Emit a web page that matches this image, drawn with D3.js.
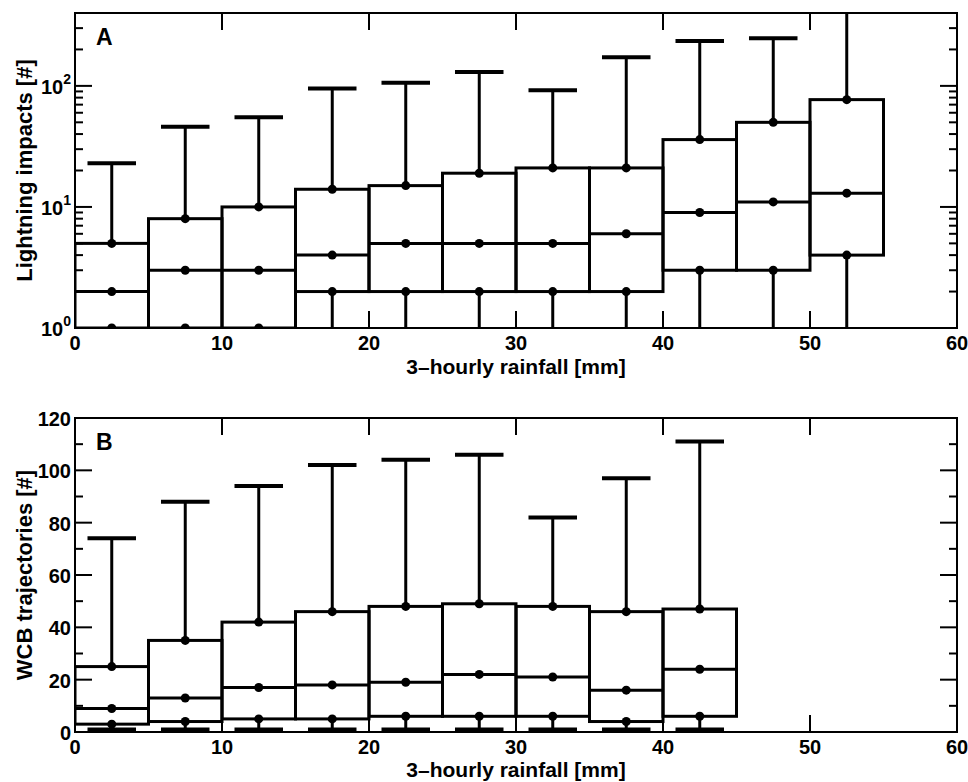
<!DOCTYPE html>
<html>
<head>
<meta charset="utf-8">
<script src="https://cdn.jsdelivr.net/npm/d3@7"></script>
<style>
  body { margin: 0; background: #fff; }
  text { font-family: "Liberation Sans", Arial, Helvetica, sans-serif; font-weight: bold; fill: #000; }
</style>
</head>
<body>
<script>
// rainfall bins [mm], 5 mm wide
var binStart = [0, 5, 10, 15, 20, 25, 30, 35, 40, 45, 50]
var xTicks = [0, 10, 20, 30, 40, 50, 60]

// panel A: lightning impacts per bin
var lightLo  = [0, 0, 0, 0, 0, 0, 0, 0, 0, 0, 0]
var lightQ1  = [1, 1, 1, 2, 2, 2, 2, 2, 3, 3, 4]
var lightMed = [2, 3, 3, 4, 5, 5, 5, 6, 9, 11, 13]
var lightQ3  = [5, 8, 10, 14, 15, 19, 21, 21, 36, 50, 77]
var lightHi  = [23, 46, 55, 95, 106, 130, 92, 172, 235, 248, 500]

// panel B: WCB trajectories per bin
var wcbLo  = [1, 1, 1, 1, 1, 1, 1, 1, 1]
var wcbQ1  = [3, 4, 5, 5, 6, 6, 6, 4, 6]
var wcbMed = [9, 13, 17, 18, 19, 22, 21, 16, 24]
var wcbQ3  = [25, 35, 42, 46, 48, 49, 48, 46, 47]
var wcbHi  = [74, 88, 94, 102, 104, 106, 82, 97, 111]
var wcbTicks = [0, 20, 40, 60, 80, 100, 120]

var W = 968, H = 782
var svg = d3.select('body').append('svg').attr('width', W).attr('height', H)

var x = d3.scaleLinear().domain([0, 60]).range([75, 957])

function rows(lo, q1, med, q3, hi){
  return q1.map(function(d, i){
    return {x0: binStart[i], x1: binStart[i] + 5, lo: lo[i], q1: q1[i], med: med[i], q3: q3[i], hi: hi[i]}
  })
}

function panel(opts){
  var y = opts.y
  var top = y.range()[1], bottom = y.range()[0]
  var left = x.range()[0], right = x.range()[1]
  var g = svg.append('g')

  g.append('clipPath').attr('id', opts.id)
    .append('rect').attr('x', left).attr('y', top).attr('width', right - left).attr('height', bottom - top)

  var marks = g.append('g').attr('clip-path', 'url(#' + opts.id + ')')
  var data = opts.data
  var mid = function(d){ return x((d.x0 + d.x1) / 2) }
  var capW = 1.65

  // whiskers
  marks.selectAll('line.up').data(data).enter().append('line')
    .attr('x1', mid).attr('x2', mid)
    .attr('y1', function(d){ return y(d.q3) }).attr('y2', function(d){ return y(d.hi) })
    .style('stroke', '#000').style('stroke-width', 3)
  marks.selectAll('line.down').data(data).enter().append('line')
    .attr('x1', mid).attr('x2', mid)
    .attr('y1', function(d){ return y(d.q1) }).attr('y2', function(d){ return y(d.lo) })
    .style('stroke', '#000').style('stroke-width', 3)

  // caps (only those inside the axis range)
  var dom = y.domain()
  marks.selectAll('line.capHi').data(data.filter(function(d){ return d.hi <= dom[1] })).enter().append('line')
    .attr('x1', function(d){ return x((d.x0 + d.x1) / 2 - capW) })
    .attr('x2', function(d){ return x((d.x0 + d.x1) / 2 + capW) })
    .attr('y1', function(d){ return y(d.hi) }).attr('y2', function(d){ return y(d.hi) })
    .style('stroke', '#000').style('stroke-width', 4)
  marks.selectAll('line.capLo').data(data.filter(function(d){ return d.lo > dom[0] })).enter().append('line')
    .attr('x1', function(d){ return x((d.x0 + d.x1) / 2 - capW) })
    .attr('x2', function(d){ return x((d.x0 + d.x1) / 2 + capW) })
    .attr('y1', function(d){ return y(d.lo) }).attr('y2', function(d){ return y(d.lo) })
    .style('stroke', '#000').style('stroke-width', 4)

  // boxes
  marks.selectAll('rect.box').data(data).enter().append('rect')
    .attr('x', function(d){ return x(d.x0) })
    .attr('width', function(d){ return x(d.x1) - x(d.x0) })
    .attr('y', function(d){ return y(d.q3) })
    .attr('height', function(d){ return y(d.q1) - y(d.q3) })
    .style('fill', 'none').style('stroke', '#000').style('stroke-width', 3)
  marks.selectAll('line.med').data(data).enter().append('line')
    .attr('x1', function(d){ return x(d.x0) }).attr('x2', function(d){ return x(d.x1) })
    .attr('y1', function(d){ return y(d.med) }).attr('y2', function(d){ return y(d.med) })
    .style('stroke', '#000').style('stroke-width', 3)

  // dots at q1, median, q3
  var dots = []
  data.forEach(function(d){ [d.q1, d.med, d.q3].forEach(function(v){ dots.push({x: (d.x0 + d.x1) / 2, v: v}) }) })
  marks.selectAll('circle').data(dots).enter().append('circle')
    .attr('cx', function(d){ return x(d.x) }).attr('cy', function(d){ return y(d.v) })
    .attr('r', 4.5).style('fill', '#000')

  // frame
  g.append('rect').attr('x', left).attr('y', top).attr('width', right - left).attr('height', bottom - top)
    .style('fill', 'none').style('stroke', '#000').style('stroke-width', 2)

  // x ticks, inward on bottom and top
  var inner = xTicks.filter(function(t){ return t > 0 && t < 60 })
  g.selectAll('line.xtb').data(inner).enter().append('line')
    .attr('x1', x).attr('x2', x).attr('y1', bottom).attr('y2', bottom - 17)
    .style('stroke', '#000').style('stroke-width', 2)
  g.selectAll('line.xtt').data(inner).enter().append('line')
    .attr('x1', x).attr('x2', x).attr('y1', top).attr('y2', top + 17)
    .style('stroke', '#000').style('stroke-width', 2)
  g.selectAll('text.xl').data(xTicks).enter().append('text')
    .attr('x', x).attr('y', bottom + 22)
    .attr('text-anchor', 'middle').style('font-size', '20px')
    .text(function(d){ return d })

  // y ticks, inward on left and right
  opts.yTicks.forEach(function(t){
    var len = t.major ? 17 : 8
    g.append('line').attr('x1', left).attr('x2', left + len).attr('y1', y(t.v)).attr('y2', y(t.v))
      .style('stroke', '#000').style('stroke-width', 2)
    g.append('line').attr('x1', right).attr('x2', right - len).attr('y1', y(t.v)).attr('y2', y(t.v))
      .style('stroke', '#000').style('stroke-width', 2)
  })
  opts.yLabels(g)

  // titles
  g.append('text').attr('x', (left + right) / 2).attr('y', Math.min(bottom + 46, H - 5))
    .attr('text-anchor', 'middle').style('font-size', '21px')
    .text('3\u2013hourly rainfall [mm]')
  g.append('text').attr('transform', 'translate(32,' + ((top + bottom) / 2) + ') rotate(-90)')
    .attr('text-anchor', 'middle').style('font-size', '22px')
    .text(opts.yTitle)
  g.append('text').attr('x', 96).attr('y', top + 32).style('font-size', '23px').text(opts.letter)
}

// panel A
var yA = d3.scaleLog().domain([1, 400]).range([328, 13]).clamp(true)
var aTicks = []
;[1, 10, 100].forEach(function(p){
  for (var k = 1; k <= 9; k++){
    var v = p * k
    if (v <= 400) aTicks.push({v: v, major: k === 1})
  }
})
panel({
  id: 'clipA', y: yA, data: rows(lightLo, lightQ1, lightMed, lightQ3, lightHi),
  yTicks: aTicks, yTitle: 'Lightning impacts [#]', letter: 'A',
  yLabels: function(g){
    g.selectAll('text.yl').data([0, 1, 2]).enter().append('text')
      .attr('x', 71).attr('y', function(d){ return yA(Math.pow(10, d)) + 8 })
      .attr('text-anchor', 'end')
      .each(function(d){
        var t = d3.select(this)
        t.append('tspan').style('font-size', '20px').text('10')
        t.append('tspan').style('font-size', '14px').attr('dy', -10).text(d)
      })
  }
})

// panel B
var yB = d3.scaleLinear().domain([0, 120]).range([732, 418])
var bTicks = d3.range(0, 121, 10).map(function(v){ return {v: v, major: v % 20 === 0} })
panel({
  id: 'clipB', y: yB, data: rows(wcbLo, wcbQ1, wcbMed, wcbQ3, wcbHi),
  yTicks: bTicks, yTitle: 'WCB trajectories [#]', letter: 'B',
  yLabels: function(g){
    g.selectAll('text.yl').data(wcbTicks).enter().append('text')
      .attr('x', 71).attr('y', function(d){ return yB(d) + 8 })
      .attr('text-anchor', 'end').style('font-size', '20px')
      .text(function(d){ return d })
  }
})
</script>
</body>
</html>
